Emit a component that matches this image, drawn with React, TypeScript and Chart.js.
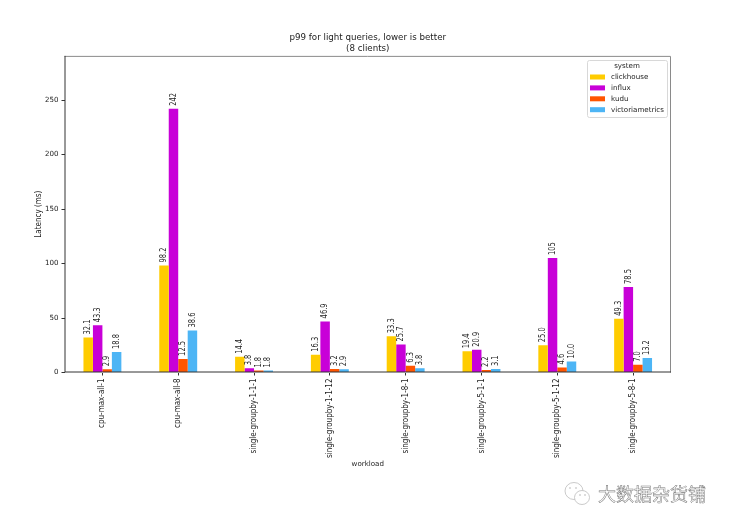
import React, { useEffect, useRef } from "react";
import { Chart, registerables } from "chart.js";

Chart.register(...registerables);

const categories = ["cpu-max-all-1", "cpu-max-all-8", "single-groupby-1-1-1", "single-groupby-1-1-12", "single-groupby-1-8-1", "single-groupby-5-1-1", "single-groupby-5-1-12", "single-groupby-5-8-1"];
const clickhouse = [32.1, 98.2, 14.4, 16.3, 33.3, 19.4, 25.0, 49.3];
const influx = [43.3, 242, 3.8, 46.9, 25.7, 20.9, 105, 78.5];
const kudu = [2.9, 12.5, 1.8, 3.2, 6.3, 2.2, 4.6, 7.0];
const victoriametrics = [18.8, 38.6, 1.8, 2.9, 3.8, 3.1, 10.0, 13.2];
const seriesNames = ["clickhouse", "influx", "kudu", "victoriametrics"];
const seriesColors = ["#FFCC00", "#C800D8", "#FF5500", "#4DB5F5"];
const yTicks = [0, 50, 100, 150, 200, 250];
const titleLines = ["p99 for light queries, lower is better", "(8 clients)"];
const watermark = "大数据杂货铺";

const FONT = "'DejaVu Sans'";
const NARROW = "'DejaVu Sans Condensed', 'DejaVu Sans'";
const DARK = "#333333";
const TEXT = "#222222";

const fmt = (v: number) => (v >= 100 ? String(Math.round(v)) : v.toFixed(1));

const decorations = {
  id: "decorations",
  afterDatasetsDraw(chart: any) {
    const { ctx, chartArea: a } = chart;
    ctx.save();
    // value labels
    ctx.font = `8.4px ${FONT}`;
    ctx.fillStyle = TEXT;
    ctx.textAlign = "left";
    ctx.textBaseline = "middle";
    chart.data.datasets.forEach((ds: any, i: number) => {
      chart.getDatasetMeta(i).data.forEach((bar: any, j: number) => {
        ctx.save();
        ctx.translate(bar.x, bar.y - 3);
        ctx.rotate(-Math.PI / 2);
        ctx.scale(0.8, 1);
        ctx.fillText(fmt(ds.data[j]), 0, 0);
        ctx.restore();
      });
    });
    // frame
    ctx.strokeStyle = "#8a8a8a";
    ctx.lineWidth = 1;
    ctx.beginPath();
    ctx.moveTo(a.left, a.top + 0.5);
    ctx.lineTo(a.right - 0.5, a.top + 0.5);
    ctx.lineTo(a.right - 0.5, a.bottom);
    ctx.stroke();
    ctx.strokeStyle = DARK;
    ctx.beginPath();
    ctx.moveTo(a.left + 0.5, a.top);
    ctx.lineTo(a.left + 0.5, a.bottom - 0.5);
    ctx.lineTo(a.right, a.bottom - 0.5);
    ctx.stroke();
    // legend
    const lx = 587, ly = 60, lw = 80, lh = 57;
    ctx.fillStyle = "rgba(255,255,255,0.9)";
    ctx.strokeStyle = "#d8d8d8";
    ctx.beginPath();
    ctx.roundRect(lx + 0.5, ly + 0.5, lw, lh, 2);
    ctx.fill();
    ctx.stroke();
    ctx.fillStyle = TEXT;
    ctx.font = `7.1px ${FONT}`;
    ctx.textAlign = "center";
    ctx.fillText("system", 627, 66.5);
    ctx.textAlign = "left";
    seriesNames.forEach((name, i) => {
      const y = 77 + i * 10.9;
      ctx.fillStyle = seriesColors[i];
      ctx.fillRect(590, y - 2.5, 15, 5);
      ctx.fillStyle = TEXT;
      ctx.fillText(name, 611, y);
    });
    // watermark
    ctx.font = `18px 'Noto Sans CJK SC'`;
    ctx.textAlign = "left";
    ctx.fillStyle = "#ffffff";
    ctx.strokeStyle = "#787878";
    ctx.lineWidth = 0.5;
    ctx.fillText(watermark, 598, 494);
    ctx.strokeText(watermark, 598, 494);
    ctx.strokeStyle = "#bcbcbc";
    ctx.lineWidth = 0.8;
    ctx.beginPath();
    ctx.ellipse(574, 491, 9, 8.5, 0, 0, Math.PI * 2);
    ctx.stroke();
    ctx.beginPath();
    ctx.fillStyle = "#ffffff";
    ctx.ellipse(582, 497.5, 7.5, 7, 0, 0, Math.PI * 2);
    ctx.fill();
    ctx.stroke();
    ctx.fillStyle = "#a0a0a0";
    [[570, 488], [576, 488], [580, 495], [585, 495]].forEach(([x, y]) => {
      ctx.beginPath();
      ctx.arc(x, y, 0.7, 0, Math.PI * 2);
      ctx.fill();
    });
    ctx.restore();
  },
};

export default function App() {
  const ref = useRef<HTMLCanvasElement>(null);
  useEffect(() => {
    document.body.style.margin = "0";
    document.body.style.background = "#fff";
    const all = [clickhouse, influx, kudu, victoriametrics];
    const chart = new Chart(ref.current!, {
      type: "bar",
      data: {
        labels: categories,
        datasets: seriesNames.map((label, i) => ({
          label,
          data: all[i],
          backgroundColor: seriesColors[i],
          categoryPercentage: 0.5,
          barPercentage: 1,
          borderWidth: 0,
        })),
      },
      plugins: [decorations],
      options: {
        animation: false,
        responsive: false,
        devicePixelRatio: 1,
        layout: { padding: { top: 0, right: 59, bottom: 0, left: 0 } },
        plugins: {
          legend: { display: false },
          tooltip: { enabled: false },
          title: {
            display: true,
            fullSize: false,
            text: titleLines,
            color: TEXT,
            font: { family: FONT, size: 8.7, weight: "normal", lineHeight: 1.2 },
            padding: { top: 33, bottom: 2 },
            align: "center",
          },
        },
        scales: {
          x: {
            offset: true,
            grid: { display: true, offset: false, drawOnChartArea: false, drawTicks: true, tickLength: 3, color: DARK },
            border: { display: false },
            ticks: {
              color: TEXT,
              font: { family: NARROW, size: 8 },
              maxRotation: 90,
              minRotation: 90,
              padding: 3,
              autoSkip: false,
            },
            title: {
              display: true,
              text: "workload",
              color: TEXT,
              font: { family: FONT, size: 7.1 },
              padding: { top: 4, bottom: 58 },
            },
            afterFit(s: any) { s.height = 153.5; },
          },
          y: {
            min: 0,
            max: 290.5,
            afterBuildTicks(s: any) { s.ticks = yTicks.map((value) => ({ value })); },
            grid: { display: true, drawOnChartArea: false, drawTicks: true, tickLength: 3, color: DARK },
            border: { display: false },
            ticks: { color: TEXT, font: { family: FONT, size: 7.1 }, padding: 3 },
            title: {
              display: true,
              text: "Latency (ms)",
              color: TEXT,
              font: { family: NARROW, size: 8 },
              padding: { top: 34, bottom: 0 },
            },
            afterFit(s: any) { s.width = 64.5; },
          },
        },
      },
    } as any);
    return () => chart.destroy();
  }, []);
  return <canvas ref={ref} width={730} height={526} style={{ display: "block" }} />;
}
